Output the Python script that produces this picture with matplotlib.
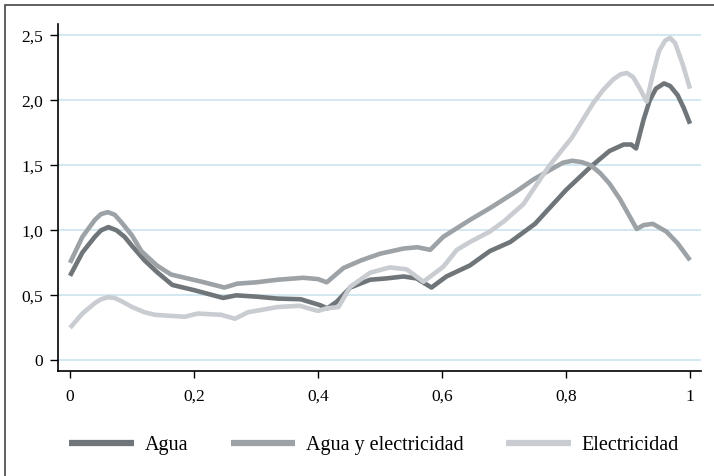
import matplotlib.pyplot as plt
from matplotlib.lines import Line2D
from matplotlib.patches import Rectangle
from matplotlib.ticker import FuncFormatter

plt.rcParams['font.family'] = ['Liberation Serif', 'DejaVu Serif']

labels = ['Agua', 'Agua y electricidad', 'Electricidad']
colors = ['#6f7578', '#9da2a6', '#c9ccd1']

x_agua = [0, 0.02, 0.04, 0.05, 0.062, 0.075, 0.088, 0.10, 0.12, 0.14, 0.165, 0.20, 0.247,
          0.268, 0.30, 0.335, 0.372, 0.403, 0.415, 0.43, 0.452, 0.484, 0.51, 0.538, 0.559,
          0.583, 0.607, 0.645, 0.677, 0.71, 0.75, 0.80, 0.84, 0.87, 0.893, 0.905, 0.913,
          0.925, 0.935, 0.945, 0.958, 0.968, 0.98, 0.99, 1.0]
y_agua = [0.65, 0.83, 0.95, 1.00, 1.025, 1.00, 0.95, 0.88, 0.77, 0.68, 0.58, 0.54, 0.48,
          0.50, 0.49, 0.475, 0.47, 0.425, 0.40, 0.45, 0.56, 0.62, 0.63, 0.645, 0.63,
          0.56, 0.645, 0.73, 0.84, 0.91, 1.05, 1.31, 1.49, 1.61, 1.66, 1.66, 1.63,
          1.85, 2.00, 2.09, 2.13, 2.11, 2.04, 1.94, 1.82]

x_ayel = [0, 0.02, 0.04, 0.05, 0.061, 0.072, 0.085, 0.10, 0.115, 0.14, 0.163, 0.212, 0.249,
          0.27, 0.30, 0.335, 0.376, 0.40, 0.414, 0.441, 0.47, 0.50, 0.538, 0.56, 0.581,
          0.602, 0.645, 0.677, 0.72, 0.747, 0.78, 0.795, 0.81, 0.825, 0.84, 0.855, 0.87,
          0.887, 0.914, 0.925, 0.94, 0.962, 0.98, 1.0]
y_ayel = [0.75, 0.95, 1.08, 1.125, 1.14, 1.12, 1.05, 0.96, 0.84, 0.73, 0.66, 0.605, 0.56,
          0.59, 0.60, 0.62, 0.635, 0.625, 0.60, 0.71, 0.77, 0.82, 0.86, 0.87, 0.85,
          0.95, 1.08, 1.17, 1.30, 1.39, 1.48, 1.52, 1.535, 1.525, 1.50, 1.44, 1.36,
          1.24, 1.01, 1.04, 1.05, 0.99, 0.90, 0.77]

x_elec = [0, 0.02, 0.04, 0.05, 0.061, 0.072, 0.085, 0.10, 0.12, 0.137, 0.185, 0.206, 0.244,
          0.266, 0.287, 0.335, 0.37, 0.40, 0.414, 0.433, 0.452, 0.484, 0.516, 0.543, 0.57,
          0.602, 0.624, 0.645, 0.677, 0.70, 0.731, 0.772, 0.809, 0.844, 0.86, 0.876, 0.888,
          0.898, 0.908, 0.918, 0.930, 0.94, 0.95, 0.96, 0.968, 0.976, 0.988, 1.0]
y_elec = [0.25, 0.36, 0.44, 0.47, 0.485, 0.48, 0.45, 0.41, 0.37, 0.35, 0.335, 0.36, 0.35,
          0.32, 0.37, 0.41, 0.42, 0.38, 0.40, 0.41, 0.566, 0.674, 0.715, 0.70, 0.605,
          0.72, 0.85, 0.91, 0.99, 1.07, 1.20, 1.49, 1.71, 1.98, 2.08, 2.16, 2.20,
          2.21, 2.18, 2.10, 1.99, 2.20, 2.38, 2.46, 2.48, 2.44, 2.28, 2.09]

series = [(x_agua, y_agua), (x_ayel, y_ayel), (x_elec, y_elec)]

fig = plt.figure(figsize=(7.14, 4.76), dpi=100)
ax = fig.add_axes([58/714, 1 - 371/476, (701 - 58)/714, (371 - 24)/476])

for (xs, ys), c, lab in zip(series, colors, labels):
    ax.plot(xs, ys, color=c, lw=3.3, solid_capstyle='butt', solid_joinstyle='round',
            label=lab, zorder=3)

ax.set_xlim(-0.0194, 1.0177)
ax.set_ylim(-0.082, 2.587)
ax.set_xticks([0, 0.2, 0.4, 0.6, 0.8, 1])
ax.set_yticks([0, 0.5, 1.0, 1.5, 2.0, 2.5])

def fmt_x(v, pos):
    if abs(v) < 1e-9:
        return '0'
    if abs(v - 1) < 1e-9:
        return '1'
    return f'{v:.1f}'.replace('.', ',')

def fmt_y(v, pos):
    if abs(v) < 1e-9:
        return '0'
    return f'{v:.1f}'.replace('.', ',')

ax.xaxis.set_major_formatter(FuncFormatter(fmt_x))
ax.yaxis.set_major_formatter(FuncFormatter(fmt_y))

ax.yaxis.grid(True, color='#cfe6ef', lw=1.3, zorder=0)
ax.set_axisbelow(True)
for s in ['top', 'right']:
    ax.spines[s].set_visible(False)
for s in ['left', 'bottom']:
    ax.spines[s].set_linewidth(1.2)
    ax.spines[s].set_color('black')
ax.tick_params(axis='y', direction='out', length=5.5, width=1, labelsize=12.5, pad=5)
ax.tick_params(axis='x', direction='out', length=5, width=1, labelsize=12.5, pad=8)

handles = [Line2D([], [], color=c, lw=4.5, solid_capstyle='butt') for c in colors]
fig.legend(handles, labels, loc='center', bbox_to_anchor=(0.524, 1 - 445/476), ncol=3,
           frameon=False, fontsize=14.5, handlelength=3.2, handletextpad=0.55,
           columnspacing=2.1)

fig.patches.append(Rectangle((5/714, -0.05), 1.05, 1 - 5/476 + 0.05, transform=fig.transFigure,
                             fill=False, edgecolor='#444444', lw=1.2))

fig.savefig('out.png', dpi=100)
